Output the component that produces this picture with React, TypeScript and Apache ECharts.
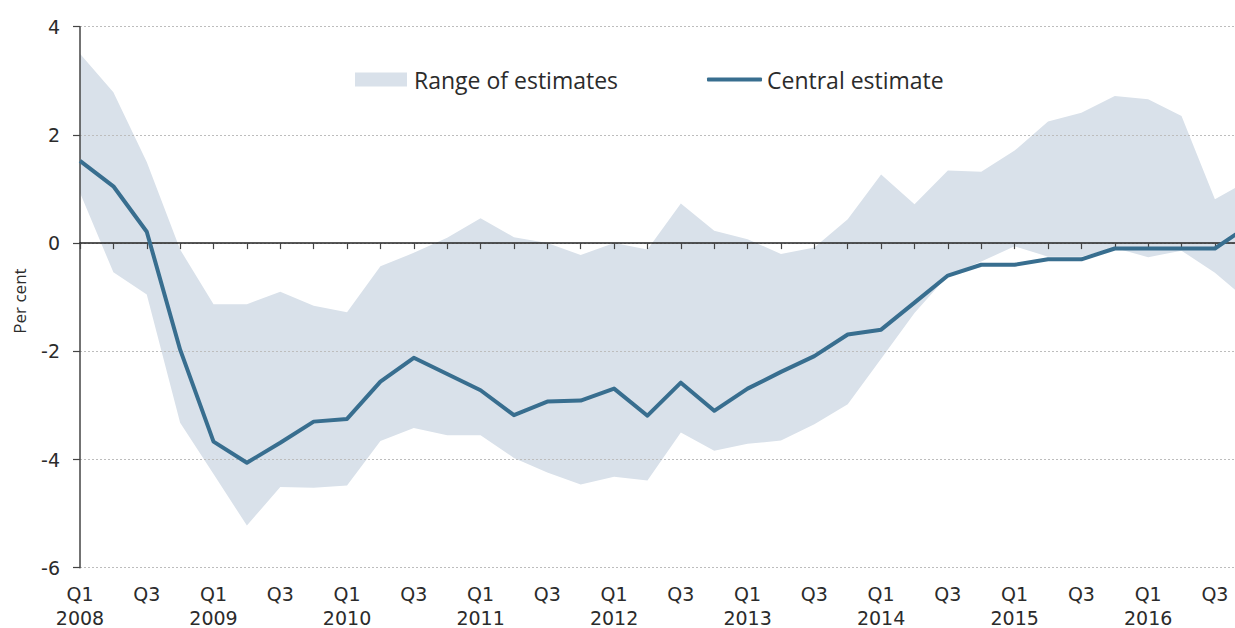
import React, { useEffect, useRef } from "react";
import * as echarts from "echarts";

const categories = [
  "2008 Q1", "2008 Q2", "2008 Q3", "2008 Q4",
  "2009 Q1", "2009 Q2", "2009 Q3", "2009 Q4",
  "2010 Q1", "2010 Q2", "2010 Q3", "2010 Q4",
  "2011 Q1", "2011 Q2", "2011 Q3", "2011 Q4",
  "2012 Q1", "2012 Q2", "2012 Q3", "2012 Q4",
  "2013 Q1", "2013 Q2", "2013 Q3", "2013 Q4",
  "2014 Q1", "2014 Q2", "2014 Q3", "2014 Q4",
  "2015 Q1", "2015 Q2", "2015 Q3", "2015 Q4",
  "2016 Q1", "2016 Q2", "2016 Q3", "2016 Q4",
];

const tickLabels = [
  "Q1\n2008", "", "Q3", "",
  "Q1\n2009", "", "Q3", "",
  "Q1\n2010", "", "Q3", "",
  "Q1\n2011", "", "Q3", "",
  "Q1\n2012", "", "Q3", "",
  "Q1\n2013", "", "Q3", "",
  "Q1\n2014", "", "Q3", "",
  "Q1\n2015", "", "Q3", "",
  "Q1\n2016", "", "Q3", "",
];

const centralEstimate = [
  1.52, 1.05, 0.21, -1.97, -3.67, -4.06, -3.69, -3.3, -3.25, -2.56, -2.12, -2.42,
  -2.72, -3.18, -2.93, -2.91, -2.69, -3.19, -2.58, -3.1, -2.69, -2.38, -2.09, -1.69,
  -1.6, -1.1, -0.6, -0.4, -0.4, -0.3, -0.3, -0.1, -0.1, -0.1, -0.1, 0.32,
];

const rangeUpper = [
  3.5, 2.79, 1.5, -0.12, -1.13, -1.13, -0.9, -1.16, -1.28, -0.43, -0.18, 0.1,
  0.46, 0.11, 0.0, -0.22, 0.0, -0.12, 0.73, 0.23, 0.07, -0.2, -0.08, 0.44,
  1.27, 0.72, 1.34, 1.32, 1.71, 2.25, 2.41, 2.72, 2.66, 2.35, 0.81, 1.16,
];

const rangeLower = [
  0.93, -0.54, -0.95, -3.32, -4.27, -5.22, -4.51, -4.52, -4.48, -3.66, -3.42, -3.55,
  -3.55, -3.97, -4.24, -4.46, -4.32, -4.39, -3.5, -3.84, -3.71, -3.65, -3.35, -2.98,
  -2.14, -1.29, -0.6, -0.34, -0.06, -0.25, -0.25, -0.09, -0.26, -0.14, -0.55, -1.07,
];

const yTicks = [-6, -4, -2, 0, 2, 4];

const LEGEND_FONT = "'Open Sans', sans-serif";
const AXIS_FONT = "'DejaVu Sans', sans-serif";
const TEXT = "#2b2b2b";
const BAND = "#d9e1ea";
const LINE = "#386e8f";

export default function App() {
  const ref = useRef<HTMLDivElement>(null);

  useEffect(() => {
    if (!ref.current) return;
    const chart = echarts.init(ref.current, null, { renderer: "svg" });
    const bandWidth = rangeUpper.map((u, i) => +(u - rangeLower[i]).toFixed(3));

    chart.setOption({
      animation: false,
      textStyle: { fontFamily: AXIS_FONT },
      grid: {
        left: 80,
        width: 1168.3,
        top: 26.7,
        height: 541,
        containLabel: false,
        outerBoundsMode: "none",
      },
      legend: [
        {
          left: 350,
          top: 63,
          selectedMode: false,
          itemWidth: 52,
          itemHeight: 14,
          itemGap: 0,
          textStyle: { fontSize: 23, color: TEXT, fontFamily: LEGEND_FONT, padding: [0, 0, 0, 2] },
          data: [{ name: "Range of estimates", icon: "rect" }],
        },
        {
          left: 702,
          top: 63,
          selectedMode: false,
          itemWidth: 55,
          itemHeight: 4,
          itemGap: 0,
          textStyle: { fontSize: 23, color: TEXT, fontFamily: LEGEND_FONT, padding: [0, 0, 0, 0] },
          data: [{ name: "Central estimate", icon: "roundRect" }],
        },
      ],
      graphic: [
        {
          type: "text",
          x: 19,
          y: 301,
          rotation: Math.PI / 2,
          style: {
            text: "Per cent",
            font: "17px 'Open Sans', sans-serif",
            fill: TEXT,
            align: "center",
            verticalAlign: "middle",
          },
        },
      ],
      xAxis: [
        {
          type: "category",
          data: categories,
          boundaryGap: false,
          z: 4,
          axisLine: { onZero: true, lineStyle: { color: "#222", width: 1.5 } },
          axisTick: { show: true, length: 6, interval: 0, lineStyle: { color: "#444", width: 1.2 } },
          axisLabel: { show: false },
          splitLine: { show: false },
        },
        {
          type: "category",
          data: categories,
          boundaryGap: false,
          position: "bottom",
          axisLine: { show: false, onZero: false },
          axisTick: { show: false },
          splitLine: { show: false },
          axisLabel: {
            show: true,
            interval: 0,
            margin: 14,
            fontSize: 19,
            lineHeight: 24,
            color: TEXT,
            fontFamily: AXIS_FONT,
            formatter: (_v: string, idx: number) => tickLabels[idx],
          },
        },
      ],
      yAxis: {
        type: "value",
        min: yTicks[0],
        max: yTicks[yTicks.length - 1],
        interval: 2,
        z: 3,
        axisLine: { show: true, lineStyle: { color: "#444", width: 1.5 } },
        axisTick: { show: true, length: 7, lineStyle: { color: "#444", width: 1.2 } },
        axisLabel: { fontSize: 19, color: TEXT, margin: 20, fontFamily: AXIS_FONT },
        splitLine: { show: true, lineStyle: { color: "#bdbdbd", type: [2, 2], width: 1 } },
      },
      series: [
        {
          name: "rangeBase",
          type: "line",
          data: rangeLower,
          stack: "band",
          stackStrategy: "all",
          symbol: "none",
          silent: true,
          z: 1,
          lineStyle: { opacity: 0 },
        },
        {
          name: "Range of estimates",
          type: "line",
          data: bandWidth,
          stack: "band",
          stackStrategy: "all",
          symbol: "none",
          silent: true,
          z: 1,
          color: BAND,
          itemStyle: { color: BAND },
          lineStyle: { opacity: 0 },
          areaStyle: { color: BAND, opacity: 1 },
        },
        {
          name: "Central estimate",
          type: "line",
          data: centralEstimate,
          symbol: "none",
          z: 10,
          color: LINE,
          itemStyle: { color: LINE },
          lineStyle: { color: LINE, width: 4, join: "round" },
        },
      ],
    });

    return () => chart.dispose();
  }, []);

  return (
    <div
      ref={ref}
      style={{ position: "absolute", left: 0, top: 0, width: 1235, height: 628 }}
    />
  );
}
